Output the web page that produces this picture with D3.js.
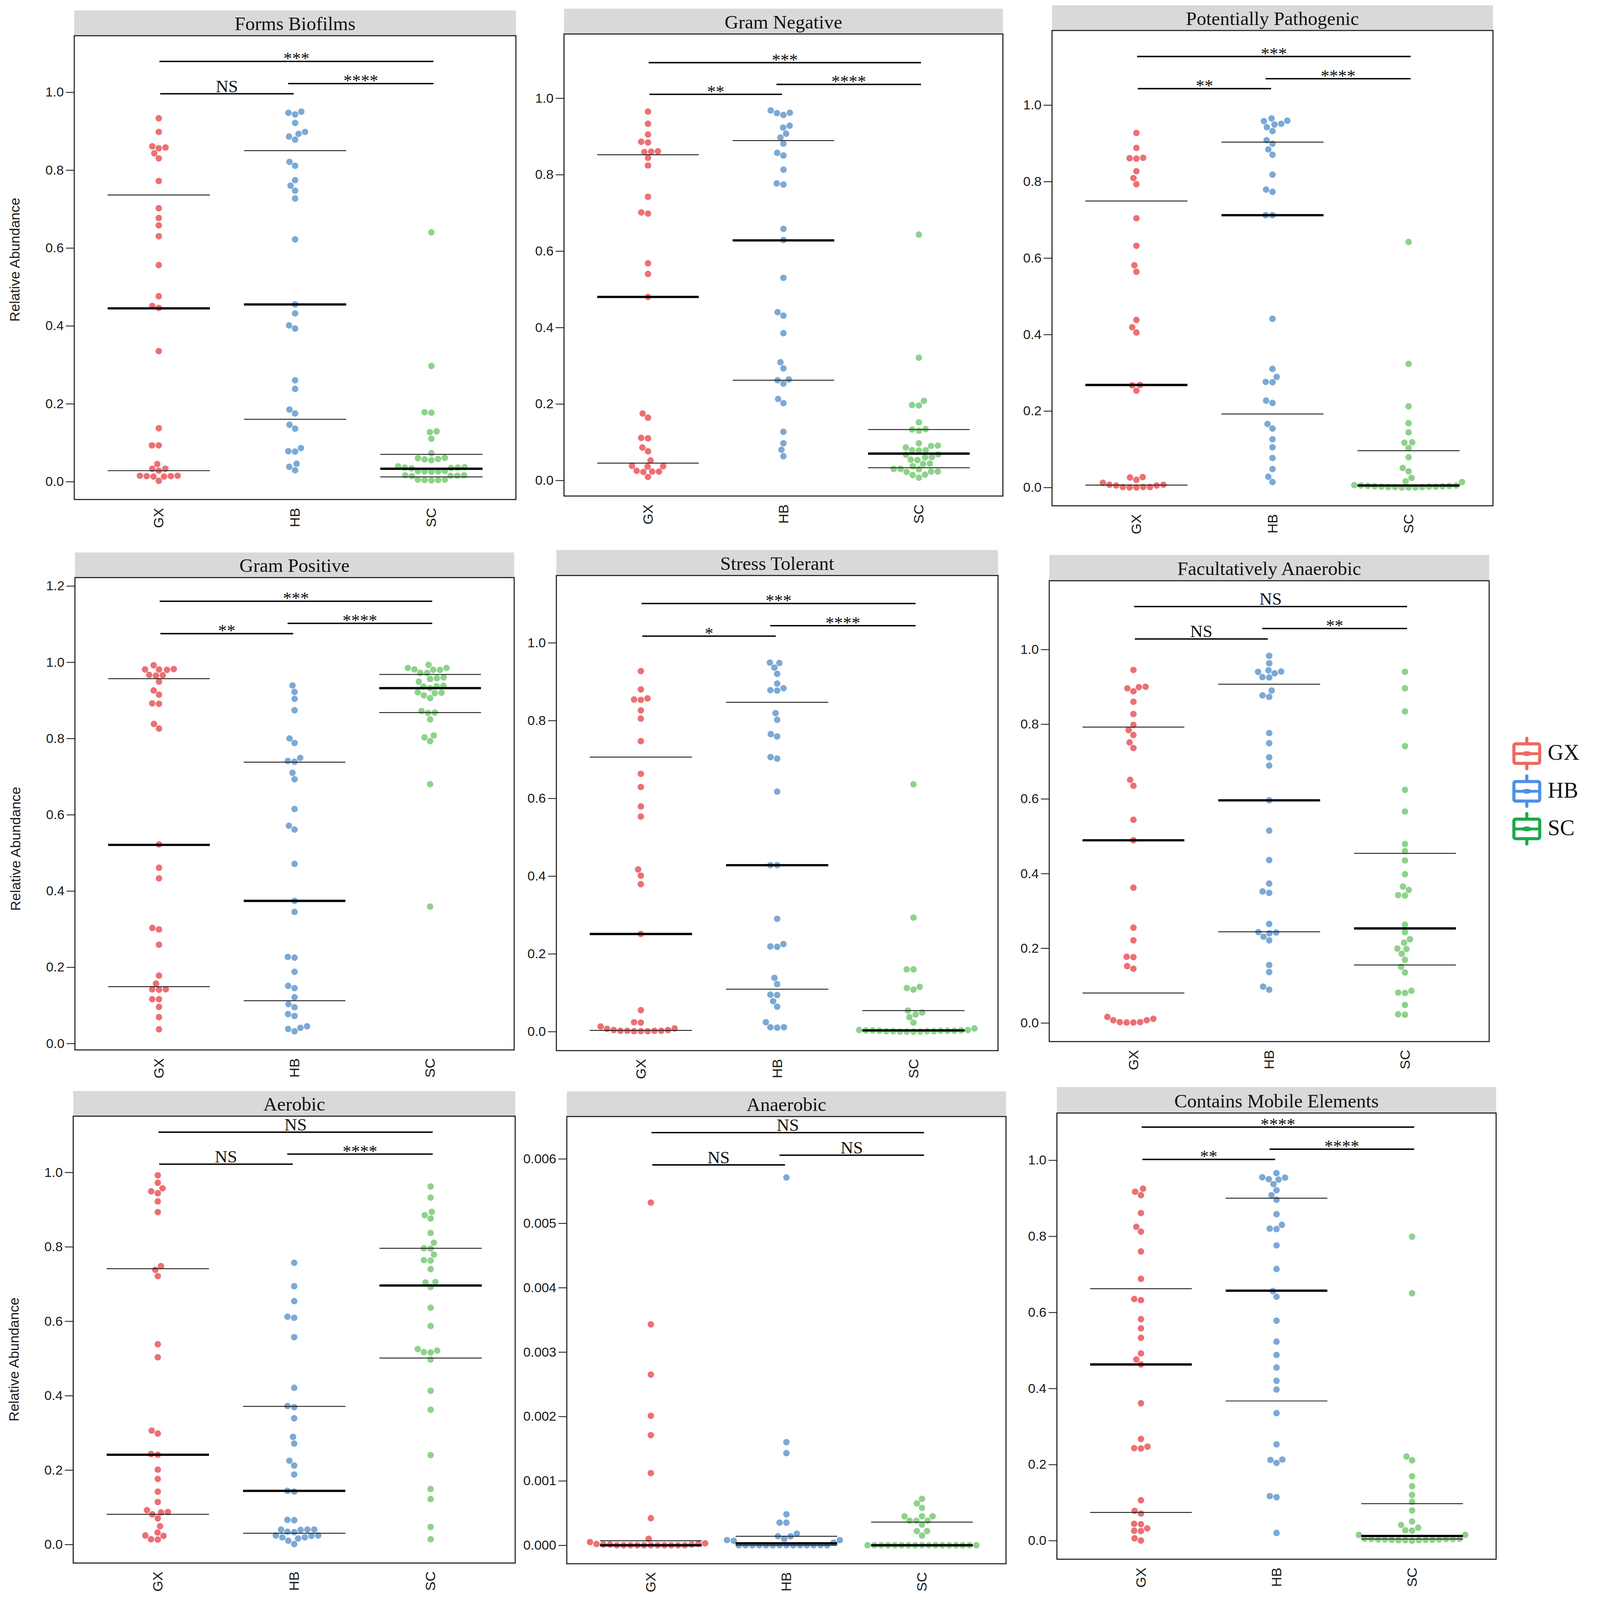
<!DOCTYPE html>
<html>
<head>
<meta charset="utf-8">
<script src="https://cdn.jsdelivr.net/npm/d3@7"></script>
<style>
  html, body { margin: 0; padding: 0; background: #fff; overflow: hidden; }
  #chart { display: block; width: 100vw; height: 100vh; }
</style>
</head>
<body>
<svg id="chart" viewBox="0 0 4550 4590" preserveAspectRatio="xMinYMin meet"></svg>
<script>
var groups = ["GX", "HB", "SC"]
var dotColors = ["#EC7073", "#7CA9D5", "#8ED28A"]
var legendColors = ["#EB6A61", "#4F8FE4", "#1EA84A"]

var ticksUnit = [0, 0.2, 0.4, 0.6, 0.8, 1.0]
var ticksGramPos = [0, 0.2, 0.4, 0.6, 0.8, 1.0, 1.2]
var ticksAnaerobic = [0, 0.001, 0.002, 0.003, 0.004, 0.005, 0.006]

// Forms Biofilms
var biofilmsGX = [0.933, 0.898, 0.861, 0.858, 0.856, 0.843, 0.830, 0.772, 0.702, 0.677, 0.658, 0.630, 0.556, 0.476, 0.451, 0.446, 0.335, 0.137, 0.093, 0.093, 0.045, 0.033, 0.033, 0.028, 0.015, 0.014, 0.013, 0.013, 0.014, 0.015, 0.002]
var biofilmsHB = [0.950, 0.947, 0.943, 0.921, 0.898, 0.893, 0.886, 0.878, 0.821, 0.811, 0.774, 0.760, 0.747, 0.727, 0.622, 0.455, 0.432, 0.401, 0.393, 0.260, 0.238, 0.185, 0.175, 0.146, 0.136, 0.086, 0.078, 0.077, 0.046, 0.038, 0.029]
var biofilmsSC = [0.640, 0.297, 0.178, 0.177, 0.129, 0.127, 0.110, 0.073, 0.061, 0.060, 0.058, 0.057, 0.055, 0.039, 0.037, 0.036, 0.035, 0.034, 0.036, 0.027, 0.026, 0.026, 0.025, 0.027, 0.016, 0.015, 0.015, 0.016, 0.014, 0.005, 0.004, 0.003, 0.004, 0.005]
var biofilmsStats = [[0.028, 0.445, 0.736], [0.160, 0.455, 0.850], [0.012, 0.033, 0.070]]
var biofilmsSig = [["GX", "SC", 1.079, "***"], ["GX", "HB", 0.996, "NS"], ["HB", "SC", 1.022, "****"]]

// Gram Negative
var gramNegGX = [0.965, 0.933, 0.905, 0.886, 0.884, 0.861, 0.860, 0.859, 0.844, 0.824, 0.742, 0.701, 0.698, 0.568, 0.540, 0.480, 0.175, 0.164, 0.111, 0.110, 0.086, 0.076, 0.052, 0.038, 0.037, 0.036, 0.025, 0.023, 0.022, 0.023, 0.009]
var gramNegHB = [0.968, 0.962, 0.961, 0.956, 0.928, 0.923, 0.907, 0.897, 0.881, 0.857, 0.850, 0.813, 0.777, 0.774, 0.658, 0.629, 0.530, 0.440, 0.431, 0.385, 0.309, 0.293, 0.264, 0.262, 0.253, 0.213, 0.202, 0.127, 0.097, 0.080, 0.063]
var gramNegSC = [0.643, 0.321, 0.208, 0.197, 0.196, 0.152, 0.134, 0.133, 0.130, 0.097, 0.091, 0.090, 0.086, 0.079, 0.078, 0.079, 0.068, 0.067, 0.061, 0.060, 0.054, 0.053, 0.044, 0.043, 0.037, 0.030, 0.030, 0.029, 0.023, 0.022, 0.023, 0.015, 0.014, 0.007]
var gramNegStats = [[0.045, 0.480, 0.852], [0.262, 0.628, 0.889], [0.033, 0.070, 0.133]]
var gramNegSig = [["GX", "SC", 1.093, "***"], ["GX", "HB", 1.010, "**"], ["HB", "SC", 1.036, "****"]]

// Potentially Pathogenic
var pathoGX = [0.927, 0.888, 0.862, 0.861, 0.860, 0.827, 0.809, 0.793, 0.704, 0.632, 0.581, 0.564, 0.438, 0.419, 0.405, 0.268, 0.267, 0.253, 0.027, 0.026, 0.020, 0.012, 0.007, 0.007, 0.005, 0.005, 0.001, 0.001, 0.000, 0.000, 0.001]
var pathoHB = [0.965, 0.959, 0.958, 0.951, 0.949, 0.942, 0.932, 0.908, 0.899, 0.884, 0.870, 0.818, 0.779, 0.773, 0.712, 0.712, 0.441, 0.310, 0.289, 0.276, 0.275, 0.227, 0.221, 0.166, 0.154, 0.126, 0.105, 0.077, 0.048, 0.028, 0.014]
var pathoSC = [0.642, 0.323, 0.212, 0.168, 0.144, 0.118, 0.117, 0.103, 0.079, 0.051, 0.042, 0.025, 0.016, 0.014, 0.006, 0.005, 0.005, 0.004, 0.004, 0.003, 0.003, 0.002, 0.002, 0.002, 0.001, 0.001, 0.001, 0.000, 0.000, 0.000]
var pathoStats = [[0.006, 0.268, 0.749], [0.192, 0.712, 0.903], [0.004, 0.005, 0.096]]
var pathoSig = [["GX", "SC", 1.127, "***"], ["GX", "HB", 1.043, "**"], ["HB", "SC", 1.069, "****"]]

// Gram Positive
var gramPosGX = [0.992, 0.981, 0.981, 0.980, 0.982, 0.966, 0.965, 0.967, 0.949, 0.926, 0.915, 0.892, 0.891, 0.838, 0.826, 0.522, 0.461, 0.433, 0.303, 0.299, 0.259, 0.178, 0.157, 0.142, 0.142, 0.141, 0.116, 0.116, 0.096, 0.069, 0.037]
var gramPosHB = [0.939, 0.922, 0.904, 0.874, 0.800, 0.788, 0.749, 0.741, 0.739, 0.710, 0.693, 0.615, 0.571, 0.561, 0.471, 0.374, 0.345, 0.227, 0.225, 0.188, 0.151, 0.145, 0.121, 0.103, 0.095, 0.077, 0.072, 0.045, 0.041, 0.038, 0.032]
var gramPosSC = [0.993, 0.985, 0.985, 0.981, 0.980, 0.980, 0.972, 0.972, 0.960, 0.958, 0.956, 0.949, 0.938, 0.937, 0.936, 0.932, 0.921, 0.920, 0.919, 0.913, 0.906, 0.872, 0.868, 0.867, 0.850, 0.808, 0.803, 0.793, 0.680, 0.359]
var gramPosStats = [[0.149, 0.521, 0.957], [0.112, 0.374, 0.738], [0.868, 0.932, 0.968]]
var gramPosSig = [["GX", "SC", 1.160, "***"], ["GX", "HB", 1.075, "**"], ["HB", "SC", 1.102, "****"]]

// Stress Tolerant
var stressGX = [0.927, 0.880, 0.857, 0.854, 0.853, 0.826, 0.805, 0.747, 0.663, 0.629, 0.579, 0.553, 0.417, 0.401, 0.379, 0.251, 0.055, 0.024, 0.023, 0.013, 0.008, 0.007, 0.004, 0.004, 0.002, 0.002, 0.001, 0.001, 0.001, 0.002, 0.002]
var stressHB = [0.949, 0.948, 0.936, 0.920, 0.895, 0.883, 0.878, 0.877, 0.819, 0.802, 0.765, 0.759, 0.706, 0.702, 0.617, 0.428, 0.428, 0.290, 0.225, 0.218, 0.219, 0.138, 0.122, 0.095, 0.094, 0.078, 0.064, 0.024, 0.011, 0.011, 0.010]
var stressSC = [0.636, 0.293, 0.160, 0.160, 0.115, 0.112, 0.108, 0.054, 0.049, 0.044, 0.037, 0.023, 0.008, 0.004, 0.004, 0.003, 0.003, 0.003, 0.002, 0.002, 0.002, 0.002, 0.001, 0.001, 0.001, 0.001, 0.000, 0.000, 0.000, 0.000]
var stressStats = [[0.003, 0.251, 0.706], [0.109, 0.428, 0.847], [0.003, 0.003, 0.054]]
var stressSig = [["GX", "SC", 1.101, "***"], ["GX", "HB", 1.017, "*"], ["HB", "SC", 1.044, "****"]]

// Facultatively Anaerobic
var facultGX = [0.945, 0.900, 0.899, 0.896, 0.888, 0.860, 0.827, 0.798, 0.784, 0.771, 0.751, 0.736, 0.651, 0.635, 0.544, 0.489, 0.362, 0.255, 0.221, 0.177, 0.176, 0.152, 0.145, 0.016, 0.011, 0.007, 0.007, 0.002, 0.002, 0.001, 0.001]
var facultHB = [0.983, 0.963, 0.944, 0.941, 0.940, 0.936, 0.926, 0.925, 0.890, 0.877, 0.873, 0.776, 0.749, 0.711, 0.689, 0.596, 0.515, 0.436, 0.373, 0.352, 0.348, 0.265, 0.243, 0.242, 0.240, 0.231, 0.221, 0.155, 0.136, 0.097, 0.089]
var facultSC = [0.940, 0.896, 0.834, 0.741, 0.624, 0.566, 0.479, 0.460, 0.435, 0.398, 0.365, 0.356, 0.342, 0.341, 0.263, 0.243, 0.224, 0.215, 0.199, 0.198, 0.185, 0.169, 0.150, 0.135, 0.086, 0.081, 0.080, 0.048, 0.023, 0.022]
var facultStats = [[0.080, 0.489, 0.792], [0.244, 0.596, 0.907], [0.155, 0.253, 0.454]]
var facultSig = [["GX", "SC", 1.115, "NS"], ["GX", "HB", 1.028, "NS"], ["HB", "SC", 1.056, "**"]]

// Aerobic
var aerobicGX = [0.992, 0.972, 0.957, 0.949, 0.944, 0.922, 0.893, 0.748, 0.738, 0.721, 0.538, 0.503, 0.306, 0.298, 0.243, 0.241, 0.201, 0.176, 0.142, 0.114, 0.092, 0.087, 0.086, 0.081, 0.070, 0.049, 0.032, 0.024, 0.023, 0.014, 0.013]
var aerobicHB = [0.757, 0.694, 0.654, 0.612, 0.609, 0.557, 0.421, 0.372, 0.369, 0.339, 0.289, 0.271, 0.225, 0.212, 0.188, 0.144, 0.142, 0.066, 0.065, 0.040, 0.040, 0.039, 0.040, 0.034, 0.033, 0.024, 0.024, 0.023, 0.019, 0.019, 0.016, 0.010, 0.001]
var aerobicSC = [0.962, 0.932, 0.894, 0.885, 0.876, 0.837, 0.811, 0.796, 0.795, 0.779, 0.764, 0.763, 0.740, 0.705, 0.704, 0.692, 0.636, 0.587, 0.525, 0.517, 0.516, 0.521, 0.497, 0.413, 0.362, 0.240, 0.149, 0.122, 0.047, 0.014]
var aerobicStats = [[0.081, 0.241, 0.741], [0.030, 0.144, 0.371], [0.501, 0.696, 0.796]]
var aerobicSig = [["GX", "SC", 1.108, "NS"], ["GX", "HB", 1.022, "NS"], ["HB", "SC", 1.049, "****"]]

// Anaerobic
var anaerobicGX = [0.00532, 0.00343, 0.00265, 0.00201, 0.00171, 0.00112, 0.00042, 0.00010, 0.00005, 0.00003, 0.00002, 0.00002, 0.00001, 0.00001, 0.00001, 0, 0, 0, 0, 0, 0, 0, 0, 0, 0, 0]
var anaerobicHB = [0.00571, 0.00160, 0.00143, 0.00048, 0.00035, 0.00035, 0.00018, 0.00014, 0.00014, 0.00010, 0.00008, 0.00008, 0.00007, 0.00004, 0, 0, 0, 0, 0, 0, 0, 0, 0, 0, 0, 0, 0, 0]
var anaerobicSC = [0.00072, 0.00065, 0.00058, 0.00045, 0.00045, 0.00045, 0.00038, 0.00038, 0.00038, 0.00032, 0.00022, 0.00022, 0.00015, 0, 0, 0, 0, 0, 0, 0, 0, 0, 0, 0, 0, 0, 0, 0, 0, 0]
var anaerobicStats = [[0, 0, 0.00007], [0, 0.00003, 0.00014], [0, 0, 0.00036]]
var anaerobicSig = [["GX", "SC", 0.006407, "NS"], ["GX", "HB", 0.005906, "NS"], ["HB", "SC", 0.006057, "NS"]]

// Contains Mobile Elements
var mobileGX = [0.925, 0.917, 0.908, 0.861, 0.825, 0.812, 0.760, 0.688, 0.635, 0.632, 0.582, 0.558, 0.533, 0.492, 0.476, 0.463, 0.361, 0.267, 0.247, 0.243, 0.242, 0.106, 0.078, 0.071, 0.044, 0.043, 0.032, 0.026, 0.025, 0.006, 0.000]
var mobileHB = [0.966, 0.955, 0.954, 0.950, 0.949, 0.937, 0.921, 0.908, 0.896, 0.858, 0.830, 0.820, 0.819, 0.776, 0.714, 0.656, 0.641, 0.578, 0.523, 0.488, 0.455, 0.420, 0.397, 0.335, 0.253, 0.213, 0.212, 0.204, 0.117, 0.114, 0.020]
var mobileSC = [0.799, 0.650, 0.221, 0.211, 0.169, 0.143, 0.120, 0.102, 0.079, 0.050, 0.041, 0.034, 0.027, 0.026, 0.015, 0.015, 0.005, 0.005, 0.004, 0.004, 0.004, 0.003, 0.003, 0.003, 0.002, 0.002, 0.002, 0.001, 0.001, 0.001, 0.000]
var mobileStats = [[0.074, 0.463, 0.662], [0.367, 0.657, 0.900], [0.004, 0.012, 0.097]]
var mobileSig = [["GX", "SC", 1.087, "****"], ["GX", "HB", 1.002, "**"], ["HB", "SC", 1.029, "****"]]

// panel frames in page pixels (box left/right, strip top, box top/bottom) and y domain
var panels = [
  {title: "Forms Biofilms", vals: [biofilmsGX, biofilmsHB, biofilmsSC], stats: biofilmsStats, sig: biofilmsSig, ticks: ticksUnit, fmt: ".1f", dom: [-0.046, 1.145], L: 213, R: 1480, ST: 30, T: 102.5, B: 1433, ylab: 745},
  {title: "Gram Negative", vals: [gramNegGX, gramNegHB, gramNegSC], stats: gramNegStats, sig: gramNegSig, ticks: ticksUnit, fmt: ".1f", dom: [-0.041, 1.168], L: 1618, R: 2877, ST: 25, T: 97.5, B: 1423},
  {title: "Potentially Pathogenic", vals: [pathoGX, pathoHB, pathoSC], stats: pathoStats, sig: pathoSig, ticks: ticksUnit, fmt: ".1f", dom: [-0.048, 1.195], L: 3018, R: 4283, ST: 15, T: 87.5, B: 1451},
  {title: "Gram Positive", vals: [gramPosGX, gramPosHB, gramPosSC], stats: gramPosStats, sig: gramPosSig, ticks: ticksGramPos, fmt: ".1f", dom: [-0.017, 1.222], L: 215, R: 1475, ST: 1585, T: 1657, B: 3012, ylab: 2435},
  {title: "Stress Tolerant", vals: [stressGX, stressHB, stressSC], stats: stressStats, sig: stressSig, ticks: ticksUnit, fmt: ".1f", dom: [-0.049, 1.173], L: 1596, R: 2863, ST: 1578, T: 1651, B: 3014},
  {title: "Facultatively Anaerobic", vals: [facultGX, facultHB, facultSC], stats: facultStats, sig: facultSig, ticks: ticksUnit, fmt: ".1f", dom: [-0.050, 1.184], L: 3010, R: 4272, ST: 1592, T: 1666, B: 2988},
  {title: "Aerobic", vals: [aerobicGX, aerobicHB, aerobicSC], stats: aerobicStats, sig: aerobicSig, ticks: ticksUnit, fmt: ".1f", dom: [-0.050, 1.151], L: 210, R: 1478, ST: 3130, T: 3202, B: 4484, ylab: 3900},
  {title: "Anaerobic", vals: [anaerobicGX, anaerobicHB, anaerobicSC], stats: anaerobicStats, sig: anaerobicSig, ticks: ticksAnaerobic, fmt: ".3f", dom: [-0.000287, 0.006657], L: 1626, R: 2886, ST: 3131, T: 3203, B: 4486},
  {title: "Contains Mobile Elements", vals: [mobileGX, mobileHB, mobileSC], stats: mobileStats, sig: mobileSig, ticks: ticksUnit, fmt: ".1f", dom: [-0.049, 1.124], L: 3032, R: 4292, ST: 3118.5, T: 3193, B: 4473}
]

var serif = "'Liberation Serif', 'Times New Roman', serif"
var sans = "'Liberation Sans', Arial, sans-serif"
var R_DOT = 9.3, GAP = 19.5

// simple beeswarm: each point takes the smallest sideways shift that does not collide
function swarm(vals, y) {
  var pts = vals.map(function(v) { return {v: v, py: y(v)} }).sort(function(a, b) { return a.v - b.v })
  var placed = []
  pts.forEach(function(p) {
    var near = placed.filter(function(q) { return Math.abs(q.py - p.py) < GAP })
    var half = near.map(function(q) { return Math.sqrt(GAP * GAP - (q.py - p.py) * (q.py - p.py)) })
    var cands = [0]
    near.forEach(function(q, i) { cands.push(q.dx - half[i], q.dx + half[i]) })
    cands.sort(function(a, b) { return Math.abs(a) - Math.abs(b) || a - b })
    p.dx = cands.find(function(c) {
      return near.every(function(q, i) { return Math.abs(c - q.dx) >= half[i] - 1e-6 })
    })
    placed.push(p)
  })
  return placed
}

var svg = d3.select('#chart')
svg.append('rect').attr('width', 4550).attr('height', 4590).attr('fill', '#fff')

panels.forEach(function(p) {
  var g = svg.append('g')
  var x = d3.scalePoint().domain(groups).range([p.L, p.R]).padding(0.62)
  var y = d3.scaleLinear().domain(p.dom).range([p.B, p.T])
  var half = x.step() * 0.375

  // strip
  g.append('rect').attr('x', p.L).attr('y', p.ST).attr('width', p.R - p.L).attr('height', p.T - p.ST).attr('fill', '#D9D9D9')
  g.append('text').attr('x', (p.L + p.R) / 2).attr('y', p.T - 16)
    .attr('text-anchor', 'middle').attr('font-family', serif).attr('font-size', 55).attr('fill', '#111')
    .text(p.title)

  // y axis
  g.append('g').attr('transform', 'translate(' + p.L + ',0)')
    .call(d3.axisLeft(y).tickValues(p.ticks).tickFormat(d3.format(p.fmt)).tickSize(24).tickPadding(6))
    .call(function(a) { a.select('.domain').remove() })
    .call(function(a) { a.selectAll('line').attr('stroke', '#222').attr('stroke-width', 2.5) })
    .call(function(a) { a.selectAll('text').attr('font-family', sans).attr('font-size', 38).attr('fill', '#1a1a1a') })

  if (p.ylab) {
    g.append('text').attr('transform', 'translate(' + (p.L - 170) + ',' + p.ylab + ') rotate(-90)')
      .attr('text-anchor', 'middle').attr('dominant-baseline', 'central')
      .attr('font-family', sans).attr('font-size', 40).attr('fill', '#1a1a1a')
      .text('Relative Abundance')
  }

  // x labels
  groups.forEach(function(k) {
    g.append('text').attr('transform', 'translate(' + x(k) + ',' + (p.B + 24) + ') rotate(-90)')
      .attr('text-anchor', 'end').attr('dominant-baseline', 'central')
      .attr('font-family', sans).attr('font-size', 40).attr('fill', '#1a1a1a')
      .text(k)
  })

  // points
  groups.forEach(function(k, gi) {
    g.append('g').selectAll('circle')
      .data(swarm(p.vals[gi], y))
      .enter()
      .append('circle')
        .attr('cx', function(d) { return x(k) + d.dx })
        .attr('cy', function(d) { return d.py })
        .attr('r', R_DOT)
        .attr('fill', dotColors[gi])
  })

  // quartile and median lines
  groups.forEach(function(k, gi) {
    var s = p.stats[gi]
    ;[s[0], s[2]].forEach(function(v) {
      g.append('line').attr('x1', x(k) - half).attr('x2', x(k) + half)
        .attr('y1', y(v)).attr('y2', y(v)).attr('stroke', '#1a1a1a').attr('stroke-width', 2.5)
    })
    g.append('line').attr('x1', x(k) - half).attr('x2', x(k) + half)
      .attr('y1', y(s[1])).attr('y2', y(s[1])).attr('stroke', '#000').attr('stroke-width', 6.5)
  })

  // significance bars
  p.sig.forEach(function(s) {
    var a = x(s[0]), b = x(s[1]), x1, x2
    if (s[0] == 'GX' && s[1] == 'HB') { x1 = a + 4; x2 = b - 4 }
    else if (s[0] == 'HB') { x1 = a - 20; x2 = b + 6 }
    else { x1 = a + 2; x2 = b + 6 }
    var yy = y(s[2])
    g.append('line').attr('x1', x1).attr('x2', x2).attr('y1', yy).attr('y2', yy)
      .attr('stroke', '#000').attr('stroke-width', 4)
    var isStar = s[3].indexOf('*') > -1
    g.append('text').attr('x', (x1 + x2) / 2).attr('y', isStar ? yy + 8 : yy - 5)
      .attr('text-anchor', 'middle').attr('font-family', serif).attr('font-size', 50).attr('fill', '#111')
      .text(s[3])
  })

  // panel frame
  g.append('rect').attr('x', p.L).attr('y', p.T).attr('width', p.R - p.L).attr('height', p.B - p.T)
    .attr('fill', 'none').attr('stroke', '#1a1a1a').attr('stroke-width', 3)
})

// legend
var leg = svg.append('g').attr('transform', 'translate(4338,2118)')
groups.forEach(function(k, i) {
  var li = leg.append('g').attr('transform', 'translate(0,' + (i * 108) + ')')
  var c = legendColors[i]
  li.append('line').attr('x1', 42).attr('x2', 42).attr('y1', 0).attr('y2', 87).attr('stroke', c).attr('stroke-width', 9).attr('stroke-linecap', 'round')
  li.append('rect').attr('x', 5).attr('y', 16).attr('width', 74).attr('height', 56).attr('rx', 5)
    .attr('fill', '#fff').attr('stroke', c).attr('stroke-width', 9)
  li.append('line').attr('x1', 5).attr('x2', 79).attr('y1', 44).attr('y2', 44).attr('stroke', c).attr('stroke-width', 8)
  li.append('ellipse').attr('cx', 42).attr('cy', 44).attr('rx', 14).attr('ry', 7).attr('fill', c)
  li.append('text').attr('x', 102).attr('y', 62)
    .attr('font-family', serif).attr('font-size', 63).attr('fill', '#111')
    .text(k)
})
</script>
</body>
</html>
